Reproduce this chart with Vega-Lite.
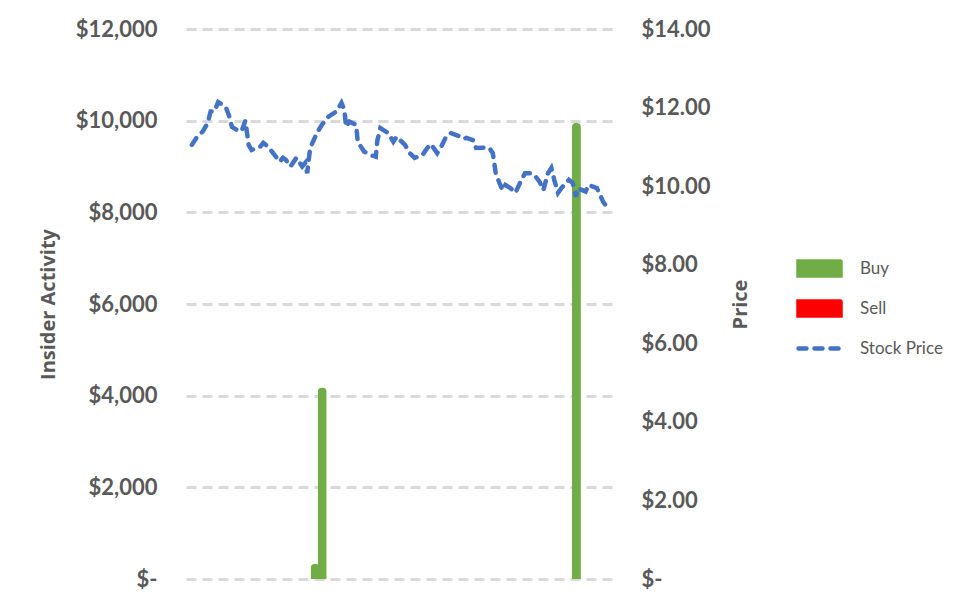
{
  "$schema": "https://vega.github.io/schema/vega-lite/v6.json",
  "width": 428,
  "height": 550,
  "autosize": {"type": "none"},
  "padding": {"left": 186, "top": 29, "right": 363, "bottom": 33},
  "background": "white",
  "config": {"view": {"stroke": null}},
  "datasets": {
    "trades": [
      {"day": 29.7, "value": 330, "type": "Buy"},
      {"day": 31.4, "value": 4180, "type": "Buy"},
      {"day": 92.2, "value": 9950, "type": "Buy"}
    ],
    "prices": [
      {"day": 0.2, "price": 11.05}, {"day": 1.3, "price": 11.23}, {"day": 2.8, "price": 11.39}, {"day": 4.0, "price": 11.61},
      {"day": 4.7, "price": 11.90}, {"day": 5.6, "price": 11.90}, {"day": 6.5, "price": 12.14}, {"day": 8.3, "price": 12.02},
      {"day": 9.1, "price": 11.79}, {"day": 9.8, "price": 11.51}, {"day": 11.0, "price": 11.43}, {"day": 12.1, "price": 11.40},
      {"day": 13.0, "price": 11.66}, {"day": 13.8, "price": 11.05}, {"day": 14.5, "price": 10.92}, {"day": 16.5, "price": 11.00},
      {"day": 17.3, "price": 11.10}, {"day": 18.5, "price": 11.00}, {"day": 20.3, "price": 10.75}, {"day": 21.2, "price": 10.62},
      {"day": 22.0, "price": 10.72}, {"day": 22.7, "price": 10.67}, {"day": 23.8, "price": 10.50}, {"day": 25.2, "price": 10.72},
      {"day": 26.6, "price": 10.50}, {"day": 27.3, "price": 10.59}, {"day": 27.8, "price": 10.33}, {"day": 28.5, "price": 10.97},
      {"day": 30.1, "price": 11.35}, {"day": 31.3, "price": 11.56}, {"day": 32.9, "price": 11.77}, {"day": 34.8, "price": 11.90},
      {"day": 36.0, "price": 12.12}, {"day": 36.7, "price": 11.94}, {"day": 37.1, "price": 11.51}, {"day": 37.9, "price": 11.64},
      {"day": 39.5, "price": 11.56}, {"day": 39.9, "price": 11.13}, {"day": 41.4, "price": 10.88}, {"day": 43.0, "price": 10.79},
      {"day": 44.2, "price": 10.75}, {"day": 44.6, "price": 11.17}, {"day": 45.3, "price": 11.48}, {"day": 47.2, "price": 11.35},
      {"day": 48.4, "price": 11.13}, {"day": 49.2, "price": 11.26}, {"day": 51.2, "price": 11.05}, {"day": 52.3, "price": 10.84},
      {"day": 53.5, "price": 10.72}, {"day": 55.4, "price": 10.79}, {"day": 56.5, "price": 10.97}, {"day": 57.4, "price": 11.07},
      {"day": 58.9, "price": 10.84}, {"day": 59.7, "price": 10.97}, {"day": 60.9, "price": 11.23}, {"day": 62.1, "price": 11.35},
      {"day": 64.0, "price": 11.28}, {"day": 65.2, "price": 11.20}, {"day": 65.9, "price": 11.23}, {"day": 67.5, "price": 11.17},
      {"day": 68.2, "price": 10.97}, {"day": 70.3, "price": 10.98}, {"day": 71.4, "price": 10.97}, {"day": 72.2, "price": 10.84},
      {"day": 72.9, "price": 10.33}, {"day": 73.8, "price": 10.08}, {"day": 74.5, "price": 9.90}, {"day": 75.2, "price": 10.03},
      {"day": 76.4, "price": 9.95}, {"day": 77.6, "price": 9.83}, {"day": 78.7, "price": 10.08}, {"day": 79.9, "price": 10.33},
      {"day": 81.5, "price": 10.33}, {"day": 82.2, "price": 10.28}, {"day": 83.4, "price": 10.11}, {"day": 84.3, "price": 9.90},
      {"day": 85.4, "price": 10.33}, {"day": 86.2, "price": 10.46}, {"day": 86.9, "price": 10.16}, {"day": 87.8, "price": 9.83},
      {"day": 88.6, "price": 9.95}, {"day": 90.4, "price": 10.16}, {"day": 91.3, "price": 10.08}, {"day": 92.1, "price": 9.73},
      {"day": 92.5, "price": 9.95}, {"day": 94.4, "price": 9.86}, {"day": 95.1, "price": 10.03}, {"day": 97.1, "price": 9.95},
      {"day": 97.9, "price": 9.77}, {"day": 98.6, "price": 9.60}, {"day": 99.5, "price": 9.47}
    ]
  },
  "layer": [
    {
      "data": {"name": "trades"},
      "mark": {"type": "bar", "size": 9, "cornerRadiusEnd": 4},
      "encoding": {
        "x": {"field": "day", "type": "quantitative", "scale": {"domain": [0, 100], "nice": false, "zero": false}, "axis": null},
        "y": {
          "field": "value", "type": "quantitative",
          "scale": {"domain": [0, 12000], "nice": false},
          "axis": {
            "orient": "left", "values": [0, 2000, 4000, 6000, 8000, 10000, 12000],
            "labelExpr": "datum.value == 0 ? '$-' : format(datum.value, '$,.0f')",
            "domain": false, "ticks": false, "labelPadding": 29,
            "labelFont": "Lato", "labelFontSize": 22, "labelFontWeight": "bold", "labelColor": "#595959",
            "grid": true, "gridColor": "#D9D9D9", "gridWidth": 3, "gridDash": [10, 6],
            "title": "Insider Activity", "titleFont": "Open Sans", "titleFontSize": 20, "titleFontWeight": "bold",
            "titleColor": "#595959", "titlePadding": 17
          }
        },
        "color": {
          "field": "type", "type": "nominal",
          "scale": {"domain": ["Buy", "Sell", "Stock Price"], "range": ["#70AD47", "#FF0000", "#4472C4"]},
          "legend": {
            "title": null, "orient": "none", "legendX": 610, "legendY": 216, "padding": 0,
            "symbolSize": 1764, "symbolType": "M-1,-0.33L1,-0.33L1,0.33L-1,0.33Z",
            "labelFont": "Lato", "labelFontSize": 17, "labelColor": "#595959", "labelOffset": 17,
            "rowPadding": 0,
            "encode": {
              "symbols": {
                "update": {
                  "shape": [{"test": "datum.value === 'Stock Price'", "value": "M-1,0L1,0"}, {"value": "M-1,-0.33L1,-0.33L1,0.33L-1,0.33Z"}],
                  "fill": [{"test": "datum.value === 'Stock Price'", "value": "transparent"}, {"test": "datum.value === 'Sell'", "value": "#FF0000"}, {"value": "#70AD47"}],
                  "stroke": [{"test": "datum.value === 'Stock Price'", "value": "#4472C4"}, {"value": "transparent"}],
                  "strokeDash": [{"test": "datum.value === 'Stock Price'", "value": [8, 8]}, {"value": [1, 0]}],
                  "strokeWidth": {"value": 4.5},
                  "strokeCap": {"value": "round"},
                  "size": {"value": 1764},
                  "opacity": {"value": 1}
                }
              }
            }
          }
        }
      }
    },
    {
      "data": {"name": "prices"},
      "mark": {"type": "line", "strokeWidth": 4.5, "strokeDash": [8, 8], "strokeCap": "round"},
      "encoding": {
        "x": {"field": "day", "type": "quantitative", "scale": {"domain": [0, 100], "nice": false, "zero": false}, "axis": null},
        "y": {
          "field": "price", "type": "quantitative",
          "scale": {"domain": [0, 14], "nice": false},
          "axis": {
            "orient": "right", "values": [0, 2, 4, 6, 8, 10, 12, 14],
            "labelExpr": "datum.value == 0 ? '$-' : format(datum.value, '$.2f')",
            "domain": false, "ticks": false, "grid": false, "labelPadding": 27,
            "labelFont": "Lato", "labelFontSize": 22, "labelFontWeight": "bold", "labelColor": "#595959",
            "title": "Price", "titleAngle": 270, "titleFont": "Open Sans", "titleFontSize": 20, "titleFontWeight": "bold",
            "titleColor": "#595959", "titlePadding": 40
          }
        },
        "color": {"datum": "Stock Price"}
      }
    }
  ],
  "resolve": {"scale": {"y": "independent"}}
}
